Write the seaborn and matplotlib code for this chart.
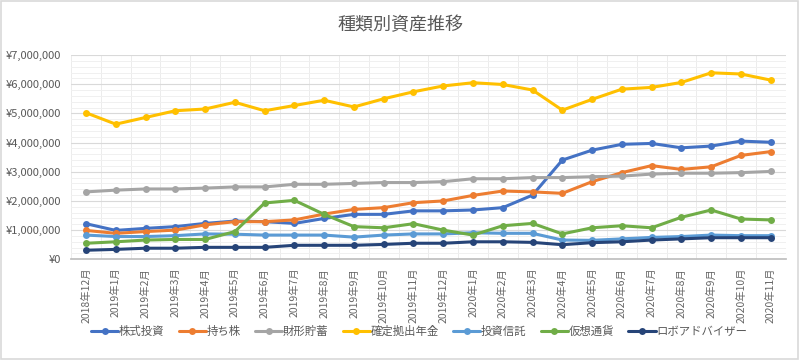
import numpy as np
import pandas as pd
import matplotlib
matplotlib.use("Agg")
import matplotlib.pyplot as plt
import matplotlib.ticker as mticker
from matplotlib.patches import Rectangle
import seaborn as sns

# 月ラベル
months = ["2018年12月"] + [f"2019年{m}月" for m in range(1, 13)] + [f"2020年{m}月" for m in range(1, 12)]

# 種類別の資産額（円）
kabushiki = [1220000, 990000, 1060000, 1120000, 1230000, 1310000, 1290000, 1230000, 1400000, 1540000, 1540000, 1660000,
             1660000, 1690000, 1770000, 2200000, 3400000, 3740000, 3940000, 3970000, 3820000, 3880000, 4050000, 4010000]
mochikabu = [990000, 890000, 950000, 1000000, 1180000, 1290000, 1290000, 1350000, 1550000, 1710000, 1770000, 1940000,
             2000000, 2190000, 2340000, 2310000, 2260000, 2660000, 2970000, 3210000, 3080000, 3170000, 3560000, 3690000]
zaikei = [2310000, 2370000, 2410000, 2410000, 2440000, 2480000, 2480000, 2570000, 2570000, 2600000, 2630000, 2630000,
          2660000, 2760000, 2760000, 2800000, 2800000, 2830000, 2850000, 2920000, 2950000, 2950000, 2970000, 3010000]
kakutei = [5020000, 4630000, 4860000, 5090000, 5150000, 5380000, 5090000, 5270000, 5450000, 5220000, 5500000, 5740000,
           5940000, 6050000, 5990000, 5800000, 5110000, 5480000, 5830000, 5890000, 6060000, 6390000, 6350000, 6140000]
toushin = [830000, 780000, 780000, 810000, 870000, 860000, 830000, 830000, 830000, 760000, 830000, 870000,
           870000, 910000, 890000, 890000, 660000, 650000, 700000, 750000, 780000, 830000, 810000, 810000]
kasou = [550000, 600000, 660000, 680000, 680000, 950000, 1930000, 2020000, 1540000, 1120000, 1080000, 1220000,
         1000000, 830000, 1150000, 1230000, 870000, 1080000, 1150000, 1080000, 1440000, 1690000, 1380000, 1350000]
robo = [310000, 340000, 380000, 380000, 410000, 410000, 410000, 480000, 480000, 480000, 510000, 550000,
        550000, 600000, 600000, 580000, 500000, 570000, 600000, 660000, 700000, 740000, 740000, 740000]

series_names = ["株式投資", "持ち株", "財形貯蓄", "確定拠出年金", "投資信託", "仮想通貨", "ロボアドバイザー"]
series_values = [kabushiki, mochikabu, zaikei, kakutei, toushin, kasou, robo]
colors = ["#4472C4", "#ED7D31", "#A5A5A5", "#FFC000", "#5B9BD5", "#70AD47", "#264478"]

df = pd.DataFrame({
    "month": np.tile(months, len(series_names)),
    "type": np.repeat(series_names, len(months)),
    "value": np.concatenate(series_values),
})

sns.set_theme(style="white")
plt.rcParams['font.family'] = ['Noto Sans CJK JP', 'DejaVu Sans']
plt.rcParams['axes.unicode_minus'] = False

fig = plt.figure(figsize=(8, 3.6), dpi=100)
ax = fig.add_axes([0.0889, 0.2797, 0.8931, 0.5675])

sns.lineplot(data=df, x="month", y="value", hue="type", hue_order=series_names,
             palette=colors, marker="o", markersize=5, markeredgewidth=0,
             linewidth=2.2, sort=False, ax=ax)

ax.set_xlim(-0.5, len(months) - 0.5)
ax.set_ylim(0, 7000000)
ax.yaxis.set_major_locator(mticker.MultipleLocator(1000000))
ax.yaxis.set_minor_locator(mticker.MultipleLocator(200000))
ax.yaxis.set_major_formatter(mticker.FuncFormatter(lambda v, p: f"¥{int(v):,}"))
ax.set_xticks(range(len(months)))
ax.set_xticklabels(months, rotation=90)
ax.xaxis.set_minor_locator(mticker.FixedLocator(np.arange(-0.5, len(months), 1.0)))

ax.grid(which="major", axis="y", color="#d9d9d9", linewidth=0.8)
ax.grid(which="minor", axis="y", color="#f0f0f0", linewidth=0.7)
ax.grid(which="minor", axis="x", color="#ececec", linewidth=0.7)
ax.set_axisbelow(True)

ax.tick_params(axis="x", which="major", length=0, labelsize=7.5, labelcolor="#666666", pad=6)
ax.tick_params(axis="x", which="minor", length=4, color="#bfbfbf", direction="out")
ax.tick_params(axis="y", which="both", length=0, labelsize=8, labelcolor="#595959", pad=7)

for s in ["top", "right", "left"]:
    ax.spines[s].set_visible(False)
ax.spines["bottom"].set_color("#bfbfbf")
ax.set_xlabel("")
ax.set_ylabel("")

ax.legend_.remove()
handles, labels = ax.get_legend_handles_labels()
fig.legend(handles, labels, loc="center", bbox_to_anchor=(0.524, 1 - 331 / 360),
           ncol=7, frameon=False, fontsize=8.2, labelcolor="#595959",
           handlelength=2.4, handletextpad=0.05, columnspacing=1.25)

fig.text(0.5, 1 - 25 / 360, "種類別資産推移", ha="center", va="center",
         fontsize=13, color="#595959")

fig.patches.append(Rectangle((0.001, 0.002), 0.997, 0.995, transform=fig.transFigure,
                             fill=False, edgecolor="#d9d9d9", linewidth=1.2))

fig.savefig("out.png", dpi=100)
